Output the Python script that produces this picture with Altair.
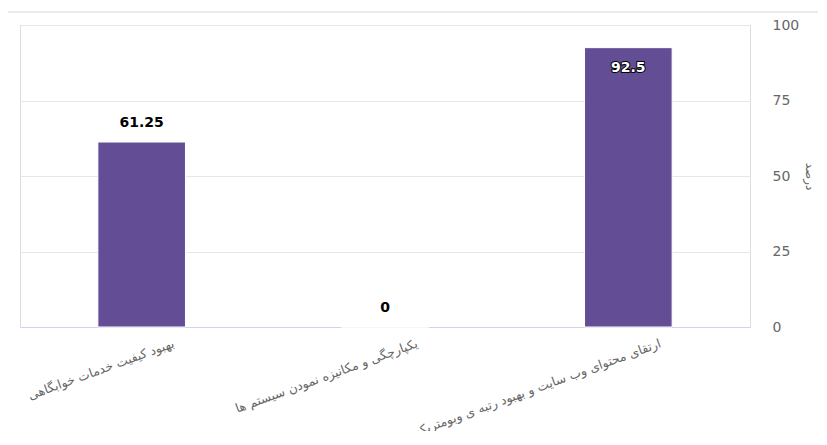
import altair as alt
import pandas as pd

categories = [
    "بهبود کیفیت خدمات خوابگاهی",
    "یکپارچگی و مکانیزه نمودن سیستم ها",
    "ارتقای محتوای وب سایت و بهبود رتبه ی وبومتریکس",
]
values = [61.25, 0, 92.5]
y_ticks = [0, 25, 50, 75, 100]

df = pd.DataFrame({"cat": categories, "val": values})

FONT = "DejaVu Sans"
BAR = "#634d95"

x = alt.X(
    "cat:N",
    sort=categories,
    title=None,
    scale=alt.Scale(paddingInner=0.64, paddingOuter=0.32),
    axis=alt.Axis(
        labelAngle=-20,
        labelAlign="right",
        labelBaseline="top",
        labelOffset=30,
        labelPadding=10,
        labelFont=FONT,
        labelFontSize=12.5,
        labelColor="#666666",
        labelLimit=400,
        ticks=False,
        domainColor="#ccd6eb",
        domainWidth=1,
        grid=False,
    ),
)
y = alt.Y(
    "val:Q",
    title="درصد",
    scale=alt.Scale(domain=[0, 100], nice=False),
    axis=alt.Axis(
        orient="right",
        values=y_ticks,
        ticks=False,
        domain=False,
        gridColor="#e6e6e6",
        labelFont=FONT,
        labelFontSize=14,
        labelColor="#666666",
        labelPadding=22,
        titleFont=FONT,
        titleFontSize=12,
        titleFontWeight="normal",
        titleColor="#666666",
        titlePadding=4,
    ),
)

base = alt.Chart(df)
bars = base.mark_bar(color=BAR, stroke="#ffffff", strokeWidth=1).encode(x=x, y=y)

xs = alt.X("cat:N", sort=categories)

above = base.transform_filter("datum.val < 90").mark_text(
    font=FONT, fontSize=14, fontWeight="bold", color="#000000",
    baseline="middle", dy=-19
).encode(x=xs, y="val:Q", text=alt.Text("val:Q"))

inside_halo = base.transform_filter("datum.val >= 90").mark_text(
    font=FONT, fontSize=14, fontWeight="bold", color="#000000",
    stroke="#000000", strokeWidth=2, strokeJoin="round",
    baseline="middle", dy=20
).encode(x=xs, y="val:Q", text=alt.Text("val:Q"))
inside = base.transform_filter("datum.val >= 90").mark_text(
    font=FONT, fontSize=14, fontWeight="bold", color="#ffffff",
    baseline="middle", dy=20
).encode(x=xs, y="val:Q", text=alt.Text("val:Q"))

top_line = alt.Chart(pd.DataFrame({"a": [0]})).mark_rule(
    color="#d8d8d8", strokeWidth=1
).encode(x=alt.value(-15), x2=alt.value(800), y=alt.value(-13))

chart = (
    alt.layer(bars, above, inside_halo, inside, top_line)
    .properties(
        width=730,
        height=302,
        autosize=alt.AutoSizeParams(type="none"),
        padding={"left": 12, "top": 17, "right": 68, "bottom": 104},
    )
    .configure_view(strokeWidth=0, stroke="transparent")
    .configure(background="#ffffff")
)

chart.save("out.html", embed_options={"renderer": "svg", "actions": False})
